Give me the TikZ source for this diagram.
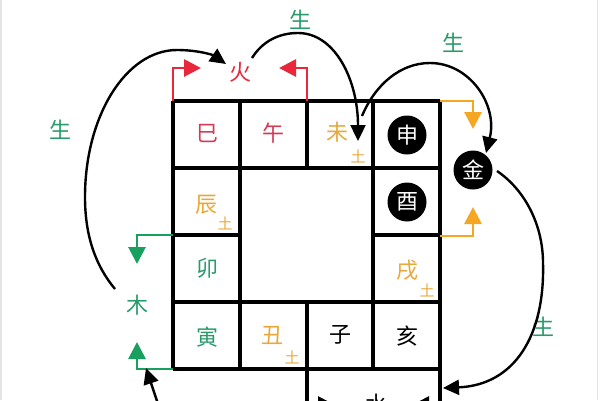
\documentclass[tikz,border=0pt]{standalone}
\usepackage{fontspec}
\newfontfamily\cjk{Noto Sans CJK SC}
\usetikzlibrary{arrows.meta}
\definecolor{fire}{HTML}{E8283A}
\definecolor{firetxt}{HTML}{D33A55}
\definecolor{wood}{HTML}{1AA05E}
\definecolor{woodtxt}{HTML}{2A9A6C}
\definecolor{earth}{HTML}{F5A623}
\definecolor{earthtxt}{HTML}{E9A83A}
\definecolor{frame}{HTML}{E4E4E4}
\tikzset{
  grid/.style={line width=3.3pt, black},
  big/.style={font=\cjk\fontsize{22}{22}\selectfont, inner sep=0pt},
  small/.style={font=\cjk\fontsize{15}{15}\selectfont, inner sep=0pt, text=earthtxt},
  sheng/.style={font=\cjk\fontsize{22}{22}\selectfont, inner sep=0pt, text=woodtxt},
  blackdot/.style={circle, fill=black, minimum size=39pt, inner sep=0pt, text=white, font=\cjk\fontsize{22}{22}\selectfont},
  gen/.style={line width=2.4pt, black, -{Triangle[length=16pt,width=15pt]}},
  bracket/.style={line width=2.8pt, -{Triangle[length=17pt,width=17pt]}},
}
\begin{document}
\begin{tikzpicture}[x=1pt,y=-1pt]
\useasboundingbox (0,0) rectangle (600,400);
\draw[frame, line width=1.5pt] (1,0) -- (1,400);
\draw[frame, line width=1.5pt] (597.5,0) -- (597.5,400);
% grid
\draw[grid] (173,101) -- (440,101);
\draw[grid] (173,168) -- (440,168);
\draw[grid] (173,302) -- (440,302);
\draw[grid] (173,369) -- (440,369);
\draw[grid] (173,235) -- (240,235);
\draw[grid] (373,235) -- (440,235);
\draw[grid] (173,101) -- (173,369);
\draw[grid] (240,101) -- (240,369);
\draw[grid] (373,101) -- (373,369);
\draw[grid] (307,101) -- (307,168);
\draw[grid] (307,302) -- (307,402);
\draw[grid] (440,101) -- (440,402);
% cell texts
\node[big, text=firetxt] (si) at (207,134) {巳};
\node[big, text=firetxt] (wu) at (273,133) {午};
\node[big, text=earthtxt] (wei) at (337,132) {未};
\node[small] (weit) at (358,156) {土};
\node[blackdot] (shen) at (407,135) {申};
\node[blackdot] (you) at (407,202) {酉};
\node[big, text=earthtxt] (chen) at (206,205) {辰};
\node[small] (chent) at (225,223) {土};
\node[big, text=woodtxt] (mao) at (207,268) {卯};
\node[big, text=woodtxt] (yin) at (207,337) {寅};
\node[big, text=earthtxt] (chou) at (272,336) {丑};
\node[small] (chout) at (292,357) {土};
\node[big] (zi) at (340,335) {子};
\node[big] (hai) at (407,336) {亥};
\node[big, text=earthtxt] (xu) at (407,270) {戌};
\node[small] (xut) at (427,290) {土};
% elements
\node[big, text=fire] (huo) at (240,72) {火};
\node[big, text=woodtxt] (mu) at (137,305) {木};
\node[blackdot] (jin) at (473,170) {金};
\node[big] (shui) at (376,404) {水};
% sheng labels
\node[sheng] (s1) at (60,130) {生};
\node[sheng] (s2) at (300,20) {生};
\node[sheng] (s3) at (453,43) {生};
\node[sheng] (s4) at (543,327) {生};
% bracket coordinates
\coordinate (rl) at (173,101);
\coordinate (rr) at (307,101);
\coordinate (ot) at (440,101);
\coordinate (ob) at (440,236);
\coordinate (gt) at (173,235);
\coordinate (gb) at (173,369);
\coordinate (bl) at (307,369);
\coordinate (br) at (440,369);
% red brackets into fire
\draw[bracket, fire] (rl) -- (173,68) -- (201,68);
\draw[bracket, fire] (rr) -- (307,68) -- (279,68);
% orange brackets into metal
\draw[bracket, earth] (ot) -- (473,101) -- (jin.north |- 0,129);
\draw[bracket, earth] (ob) -- (473,236) -- (jin.south |- 0,207);
% green brackets into wood
\draw[bracket, wood] (gt) -- (137,235) -- (mu.north |- 0,264);
\draw[bracket, wood] (gb) -- (137,369) -- (mu.south |- 0,342);
% black brackets into water
\draw[bracket, black] (bl) -- (307,405) -- (335,405);
\draw[bracket, black] (br) -- (440,405) -- (412,405);
% generating arcs
\coordinate (muout) at (115,289);
\coordinate (huoin) at (226,64);
\draw[gen] (muout) .. controls (95,265) and (85,235) .. (85,197)
  .. controls (85,116) and (126,50) .. (177,50)
  .. controls (198,50) and (213,55) .. (huoin);
\coordinate (huoout) at (252,58);
\coordinate (weiin) at (358,141);
\draw[gen] (huoout) .. controls (262,42) and (278,33) .. (298,33)
  .. controls (335,33) and (358,80) .. (weiin);
\coordinate (weiout) at (362,116);
\coordinate (jinin) at (486,153);
\draw[gen] (weiout) .. controls (375,85) and (400,63) .. (430,63)
  .. controls (470,63) and (498,105) .. (jinin);
\coordinate (jinout) at (497,171);
\coordinate (shuiin) at (443,388);
\draw[gen] (jinout) .. controls (525,190) and (543,225) .. (543,263)
  .. controls (545,335) and (515,385) .. (shuiin);
\coordinate (shuiout) at (158,404);
\coordinate (muin) at (146,368);
\draw[gen] (shuiout) .. controls (154,392) and (150,380) .. (muin);
\end{tikzpicture}
\end{document}
